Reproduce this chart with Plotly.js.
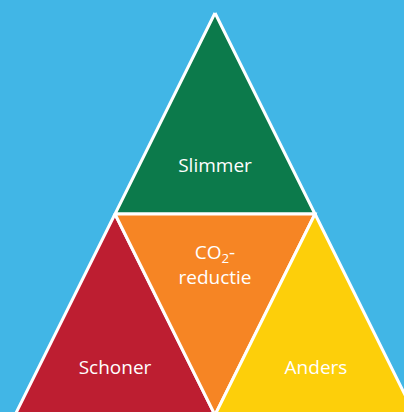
<!DOCTYPE html>
<html><head><meta charset="utf-8">
<script src="https://cdn.plot.ly/plotly-3.0.1.min.js"></script>
<style>html,body{margin:0;padding:0;background:#41B6E6;}#chart{width:404px;height:412px;}</style>
</head><body><div id="chart"></div>
<script>
// Segment names and colours
var segments = ["Slimmer", "Schoner", "CO<sub>2</sub>-<br>reductie", "Anders"];
var segmentColors = ["#0C7A4B", "#BD1E31", "#F68524", "#FDCF0A"];
// Triangle corners (x, y) for each segment
var segX = [
  [215, 315, 115],
  [115, 215, 15],
  [115, 315, 215],
  [315, 415, 215]
];
var segY = [
  [13, 214, 214],
  [214, 415, 415],
  [214, 214, 415],
  [214, 415, 415]
];
// Label positions
var labelX = [215, 115, 215, 316];
var labelY = [167, 369, 267, 369];

var traces = [];
for (var i = 0; i < segments.length; i++) {
  traces.push({
    type: "scatter", mode: "lines",
    x: segX[i].concat([segX[i][0]]),
    y: segY[i].concat([segY[i][0]]),
    fill: "toself", fillcolor: segmentColors[i],
    line: {color: "#FFFFFF", width: 3},
    hoverinfo: "skip", showlegend: false
  });
}
traces.push({
  type: "scatter", mode: "text",
  x: labelX, y: labelY, text: segments,
  textfont: {family: "Open Sans, Noto Sans, sans-serif", size: 19, color: "#FFFFFF"},
  hoverinfo: "skip", showlegend: false
});

var layout = {
  width: 404, height: 412,
  margin: {l: 0, r: 0, t: 0, b: 0},
  paper_bgcolor: "#41B6E6", plot_bgcolor: "#41B6E6",
  xaxis: {range: [0, 404], visible: false, fixedrange: true},
  yaxis: {range: [412, 0], visible: false, fixedrange: true},
  showlegend: false
};
Plotly.newPlot("chart", traces, layout, {displayModeBar: false, staticPlot: true});
</script>
</body></html>
